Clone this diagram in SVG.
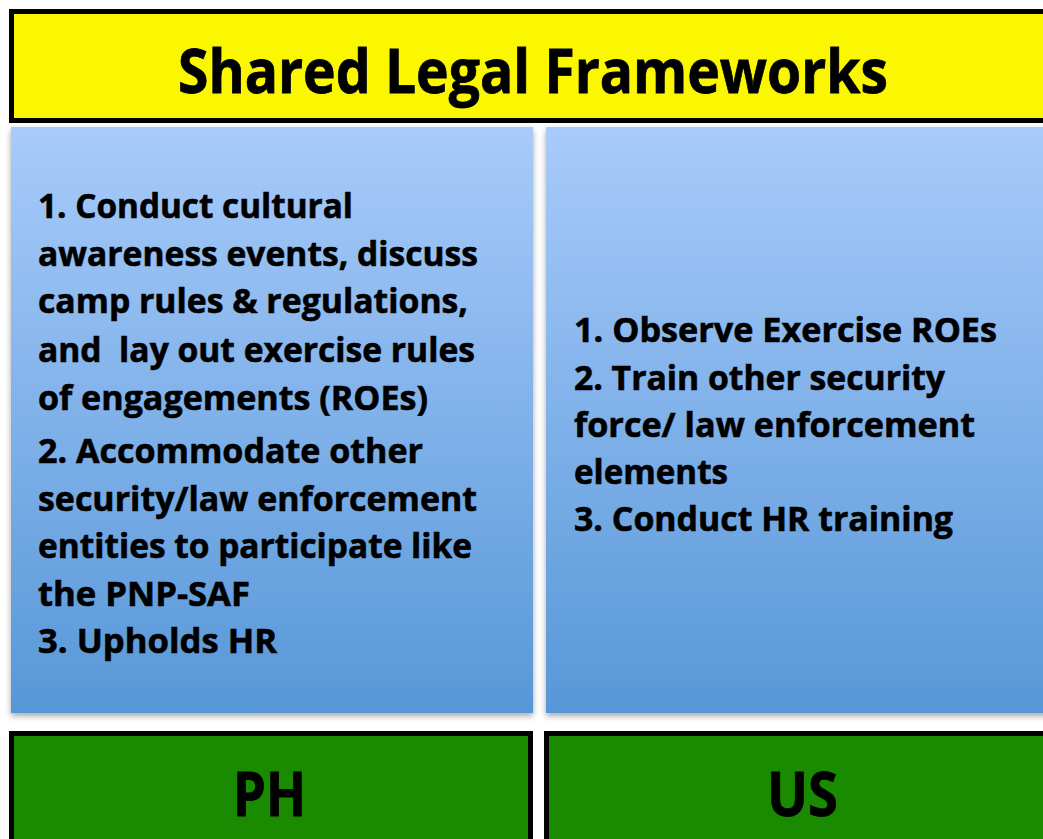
<svg xmlns="http://www.w3.org/2000/svg" width="1043" height="839" viewBox="0 0 1043 839">
<style>
.t{font-family:"Open Sans","Liberation Sans",sans-serif;font-weight:700;fill:#000;stroke:#000;stroke-width:0.6;}
.b{font-size:34px;}
.h{font-size:60px;stroke-width:0.8;}
.hd{fill:#fbf700;stroke:#000;stroke-width:5;}
.gr{fill:#1a8a00;stroke:#000;stroke-width:5;}
.bl{fill:url(#blueGrad);}
</style>
<defs>
<linearGradient id="blueGrad" x1="0" y1="0" x2="0" y2="1">
<stop offset="0" stop-color="#a8cbfa"/>
<stop offset="1" stop-color="#5797d8"/>
</linearGradient>
<filter id="shadow" x="-5%" y="-5%" width="110%" height="110%">
<feGaussianBlur in="SourceAlpha" stdDeviation="3"/>
<feOffset dx="0" dy="3" result="o"/>
<feComponentTransfer><feFuncA type="linear" slope="0.35"/></feComponentTransfer>
<feMerge><feMergeNode/><feMergeNode in="SourceGraphic"/></feMerge>
</filter>
</defs>
<rect width="1043" height="839" fill="#ffffff"/>
<g id="header">
<rect class="hd" x="11.5" y="11.5" width="1040" height="109"/>
<text class="t h" x="178" y="93" textLength="710" lengthAdjust="spacingAndGlyphs">Shared Legal Frameworks</text>
</g>
<g id="ph-box" filter="url(#shadow)">
<rect class="bl" x="11" y="127" width="522" height="586"/>
</g>
<g id="ph-text">
<text class="t b" x="38" y="218" textLength="315" lengthAdjust="spacingAndGlyphs">1. Conduct cultural</text>
<text class="t b" x="38" y="266" textLength="440" lengthAdjust="spacingAndGlyphs">awareness events, discuss</text>
<text class="t b" x="38" y="313" textLength="430" lengthAdjust="spacingAndGlyphs">camp rules &amp; regulations,</text>
<text class="t b" x="38" y="362" textLength="437" lengthAdjust="spacingAndGlyphs">and &#160;lay out exercise rules</text>
<text class="t b" x="38" y="410" textLength="390" lengthAdjust="spacingAndGlyphs">of engagements (ROEs)</text>
<text class="t b" x="38" y="463" textLength="385" lengthAdjust="spacingAndGlyphs">2. Accommodate other</text>
<text class="t b" x="38" y="511" textLength="439" lengthAdjust="spacingAndGlyphs">security/law enforcement</text>
<text class="t b" x="38" y="558" textLength="434" lengthAdjust="spacingAndGlyphs">entities to participate like</text>
<text class="t b" x="38" y="606" textLength="212" lengthAdjust="spacingAndGlyphs">the PNP-SAF</text>
<text class="t b" x="38" y="653" textLength="239" lengthAdjust="spacingAndGlyphs">3. Upholds HR</text>
</g>
<g id="us-box" filter="url(#shadow)">
<rect class="bl" x="546" y="127" width="510" height="586"/>
</g>
<g id="us-text">
<text class="t b" x="574" y="342" textLength="423" lengthAdjust="spacingAndGlyphs">1. Observe Exercise ROEs</text>
<text class="t b" x="574" y="390" textLength="371" lengthAdjust="spacingAndGlyphs">2. Train other security</text>
<text class="t b" x="574" y="437" textLength="401" lengthAdjust="spacingAndGlyphs">force/ law enforcement</text>
<text class="t b" x="574" y="484" textLength="154" lengthAdjust="spacingAndGlyphs">elements</text>
<text class="t b" x="574" y="531" textLength="379" lengthAdjust="spacingAndGlyphs">3. Conduct HR training</text>
</g>
<g id="ph-label">
<rect class="gr" x="11.5" y="733.5" width="519" height="120"/>
<text class="t h" x="233" y="816" textLength="73" lengthAdjust="spacingAndGlyphs">PH</text>
</g>
<g id="us-label">
<rect class="gr" x="546.5" y="733.5" width="510" height="120"/>
<text class="t h" x="767" y="816" textLength="71" lengthAdjust="spacingAndGlyphs">US</text>
</g>
<g id="connectors"/>
</svg>
